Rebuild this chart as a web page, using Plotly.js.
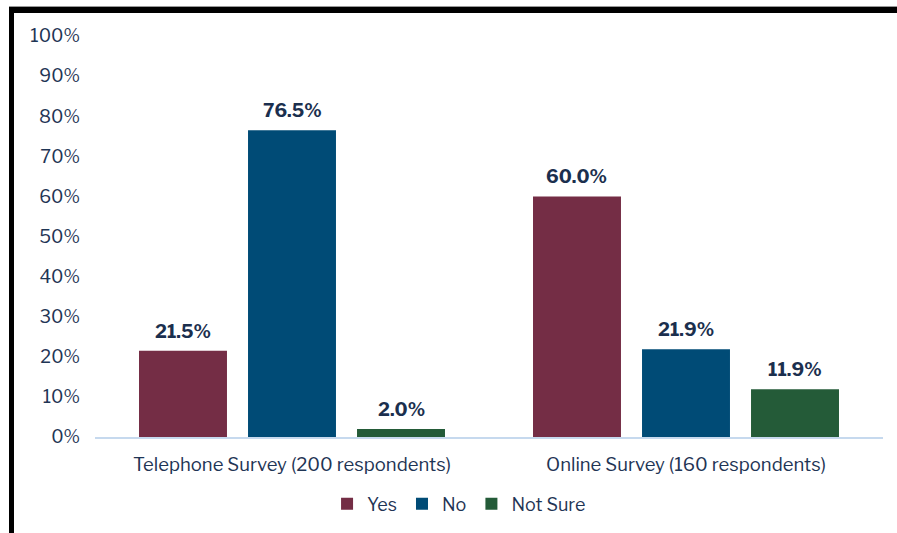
<!DOCTYPE html>
<html><head><meta charset="utf-8">
<script src="https://cdn.plot.ly/plotly-3.0.1.min.js"></script>
<style>
html,body{margin:0;padding:0;background:#fff;}
#wrap{position:relative;width:897px;height:533px;overflow:hidden;}
#chart{position:absolute;left:0;top:0;width:897px;height:533px;}
.b{position:absolute;background:#000;}
</style></head><body>
<div id="wrap">
<div id="chart"></div>
<div class="b" style="left:9px;top:6px;width:888px;height:1px;background:#999;"></div>
<div class="b" style="left:9px;top:7px;width:888px;height:6px;"></div>
<div class="b" style="left:9px;top:7px;width:5px;height:526px;"></div>
</div>
<script>
const categories = ["Telephone Survey (200 respondents)", "Online Survey (160 respondents)"];
const seriesNames = ["Yes", "No", "Not Sure"];
const yesValues = [21.5, 60.0];
const noValues = [76.5, 21.9];
const notSureValues = [2.0, 11.9];
const colors = ["#742D45", "#004B76", "#245B38"];
const yTicks = [0,10,20,30,40,50,60,70,80,90,100];
const yTickText = yTicks.map(v => v + '%');

const FONT = 'Libre Franklin, Inter, Arial, sans-serif';
const bargap = 0.17;
const all = [yesValues, noValues, notSureValues];
const traces = all.map((vals, i) => ({
  type: 'bar', x: categories.map((c, k) => k), y: vals, name: seriesNames[i],
  marker: {color: colors[i]},
  hoverinfo: 'none'
}));
const annotations = [];
all.forEach((vals, i) => vals.forEach((v, k) => {
  annotations.push({
    x: k + (i - 1) * (1 - bargap) / 3, y: v, xref: 'x', yref: 'y',
    text: '<b>' + v.toFixed(1) + '%</b>', showarrow: false,
    yanchor: 'bottom', yshift: 6,
    font: {family: FONT, size: 18.5, color: '#1B2F4E'}
  });
}));

const layout = {
  width: 897, height: 533,
  margin: {l: 95, r: 14, t: 36, b: 95},
  paper_bgcolor: '#fff', plot_bgcolor: '#fff',
  barmode: 'group', bargap: bargap, bargroupgap: 0.193,
  font: {family: FONT, size: 18, color: '#1F3555'},
  xaxis: {showline: true, linecolor: '#C6D9EE', linewidth: 2, ticks: '', range: [-0.5, 1.5],
          tickvals: [0, 1], ticktext: categories, ticklabelstandoff: 10,
          tickfont: {size: 18.5, color: '#1F3555'}, showgrid: false, zeroline: false},
  yaxis: {range: [0, 100], tickvals: yTicks, ticktext: yTickText, showgrid: false, zeroline: false, showline: false,
          ticklabelstandoff: 14, tickfont: {size: 18, color: '#1F3555'}},
  showlegend: true,
  legend: {orientation: 'h', x: 0.462, xanchor: 'center', y: -0.164, yanchor: 'middle',
           font: {size: 18, color: '#1F3555'}, traceorder: 'normal', itemwidth: 30},
  annotations: annotations
};
Plotly.newPlot('chart', traces, layout, {staticPlot: true});
</script></body></html>
